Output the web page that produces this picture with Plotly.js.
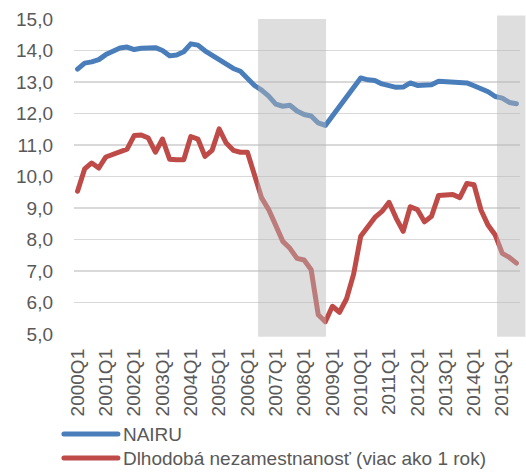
<!DOCTYPE html>
<html>
<head>
<meta charset="utf-8">
<script src="https://cdn.plot.ly/plotly-3.0.1.min.js"></script>
<style>
  html, body { margin: 0; padding: 0; background: #ffffff; }
  #chart { width: 526px; height: 472px; }
  .js-line { stroke-linejoin: round; stroke-linecap: round; }
</style>
</head>
<body>
<div id="chart"></div>
<script>
// ---- Data ----
const categories = [
  '2000Q1','2000Q2','2000Q3','2000Q4','2001Q1','2001Q2','2001Q3','2001Q4',
  '2002Q1','2002Q2','2002Q3','2002Q4','2003Q1','2003Q2','2003Q3','2003Q4',
  '2004Q1','2004Q2','2004Q3','2004Q4','2005Q1','2005Q2','2005Q3','2005Q4',
  '2006Q1','2006Q2','2006Q3','2006Q4','2007Q1','2007Q2','2007Q3','2007Q4',
  '2008Q1','2008Q2','2008Q3','2008Q4','2009Q1','2009Q2','2009Q3','2009Q4',
  '2010Q1','2010Q2','2010Q3','2010Q4','2011Q1','2011Q2','2011Q3','2011Q4',
  '2012Q1','2012Q2','2012Q3','2012Q4','2013Q1','2013Q2','2013Q3','2013Q4',
  '2014Q1','2014Q2','2014Q3','2014Q4','2015Q1','2015Q2','2015Q3'
];

const nairu = [
  13.41, 13.60, 13.64, 13.71, 13.87, 13.98, 14.08, 14.11,
  14.03, 14.07, 14.08, 14.09, 14.00, 13.83, 13.86, 13.96,
  14.21, 14.17, 13.99, 13.85, 13.70, 13.55, 13.43, 13.34,
  13.10, 12.89, 12.74, 12.55, 12.30, 12.23, 12.26, 12.08,
  11.97, 11.92, 11.70, 11.62, 11.92, 12.23, 12.53, 12.84,
  13.13, 13.07, 13.05, 12.94, 12.87, 12.83, 12.84, 12.97,
  12.89, 12.92, 12.91, 13.02, 13.00, 12.99, 12.99, 12.97,
  12.88, 12.78, 12.69, 12.54, 12.49, 12.35, 12.31
];

const longTermUnemployment = [
  9.53, 10.24, 10.43, 10.27, 10.62, 10.69, 10.80, 10.87,
  11.30, 11.32, 11.22, 10.77, 11.19, 10.55, 10.53, 10.53,
  11.27, 11.19, 10.64, 10.83, 11.51, 11.06, 10.83, 10.77,
  10.77, 10.05, 9.32, 8.95, 8.47, 7.94, 7.72, 7.40,
  7.35, 7.04, 5.61, 5.39, 5.88, 5.69, 6.12, 6.90,
  8.10, 8.37, 8.70, 8.89, 9.18, 8.68, 8.26, 9.04,
  8.95, 8.56, 8.74, 9.40, 9.41, 9.43, 9.33, 9.78,
  9.74, 8.93, 8.45, 8.14, 7.56, 7.43, 7.25
];

const tickLabels = [
  '2000Q1','2001Q1','2002Q1','2003Q1','2004Q1','2005Q1','2006Q1','2007Q1',
  '2008Q1','2009Q1','2010Q1','2011Q1','2012Q1','2013Q1','2014Q1','2015Q1'
];

const seriesNames = ['NAIRU', 'Dlhodobá nezamestnanosť (viac ako 1 rok)'];

// shaded periods (first and last category of each band)
const shadedStart = ['2006Q3', '2015Q1'];
const shadedEnd   = ['2008Q4', '2015Q3'];

// ---- Styling ----
const FONT = '"Liberation Sans", Arial, Helvetica, sans-serif';
const TEXT_COLOR = '#595959';
const BLUE = '#4a7ebb';
const RED = '#be4b48';

const nCat = categories.length;
function catToPaper(idx) { return (idx + 0.5) / nCat; }

const shapes = shadedStart.map(function (s, k) {
  const i0 = categories.indexOf(s);
  const i1 = categories.indexOf(shadedEnd[k]);
  const last = (k === shadedStart.length - 1);
  return {
    type: 'rect', layer: 'above', xref: 'paper', yref: 'paper',
    x0: catToPaper(i0 - (last ? 0.75 : 0.5)),
    x1: last ? 1.012 : catToPaper(i1 + 0.1),
    y0: -0.0086,
    y1: last ? 1.011 : 1.0,
    fillcolor: 'rgba(183,183,183,0.46)',
    line: { width: 0 }
  };
});

const traces = [
  {
    type: 'scatter', mode: 'lines', name: seriesNames[0],
    x: categories, y: nairu,
    line: { color: BLUE, width: 5 },
    legend: 'legend', hoverinfo: 'skip'
  },
  {
    type: 'scatter', mode: 'lines', name: seriesNames[1],
    x: categories, y: longTermUnemployment,
    line: { color: RED, width: 5 },
    legend: 'legend2', hoverinfo: 'skip'
  }
];

const legendBase = {
  xref: 'container', yref: 'container',
  xanchor: 'left', yanchor: 'top',
  itemwidth: 54,
  bgcolor: 'rgba(0,0,0,0)', borderwidth: 0,
  font: { family: FONT, size: 19, color: TEXT_COLOR }
};

const layout = {
  width: 526, height: 472,
  margin: { l: 74, r: 6, t: 19, b: 138, autoexpand: false },
  paper_bgcolor: '#ffffff', plot_bgcolor: '#ffffff',
  separators: ', ',
  font: { family: FONT, size: 19, color: TEXT_COLOR },
  showlegend: true,
  legend: Object.assign({}, legendBase, { x: 0.112, y: 0.1205 }),
  legend2: Object.assign({}, legendBase, { x: 0.112, y: 0.0695 }),
  xaxis: {
    type: 'category',
    range: [-0.5, nCat - 0.5],
    tickmode: 'array', tickvals: tickLabels, ticktext: tickLabels,
    tickangle: -90,
    ticks: '', showgrid: false, zeroline: false, showline: false,
    automargin: false,
    ticklabelstandoff: 10,
    tickfont: { family: FONT, size: 19, color: TEXT_COLOR }
  },
  yaxis: {
    range: [5, 15], tick0: 5, dtick: 1, tickformat: '.1f',
    ticks: '', showline: false, zeroline: false,
    automargin: false,
    gridcolor: '#d9d9d9', gridwidth: 1.5,
    ticklabelstandoff: 20,
    tickfont: { family: FONT, size: 19, color: TEXT_COLOR }
  },
  shapes: shapes
};

Plotly.newPlot('chart', traces, layout, { staticPlot: true, displayModeBar: false });
</script>
</body>
</html>
